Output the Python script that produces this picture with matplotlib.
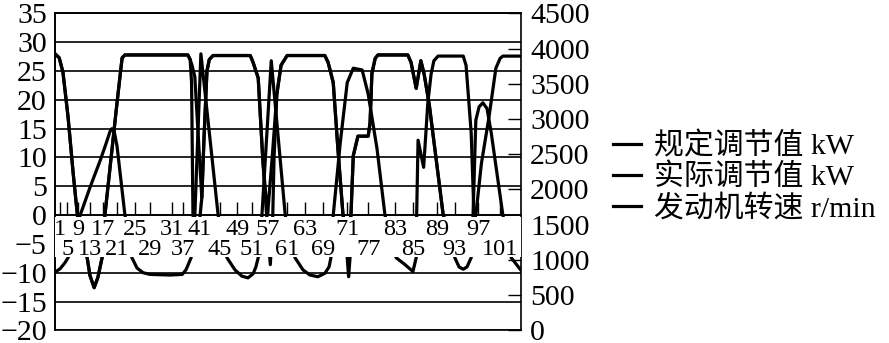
import matplotlib

matplotlib.use("Agg")
import matplotlib.pyplot as plt
from matplotlib.lines import Line2D

plt.rcParams["font.family"] = ["Liberation Serif", "Noto Sans CJK SC"]
plt.rcParams["axes.unicode_minus"] = True

# time axis (0-100 over the plotted span) and category labels on it
top_tick_pos = [1.1, 4.9, 10.3, 17.2, 25.1, 31.1, 39.1, 45.7, 53.6, 62.7, 73.0, 82.0, 90.8]
top_tick_lab = ["1", "9", "17", "25", "31", "41", "49", "57", "63", "71", "83", "89", "97"]
bot_tick_pos = [2.6, 7.5, 13.3, 20.4, 27.5, 35.4, 42.3, 49.8, 57.5, 67.2, 76.8, 85.8, 95.5]
bot_tick_lab = ["5", "13", "21", "29", "37", "45", "51", "61", "69", "77", "85", "93", "101"]

# 规定调节值 kW (left axis)
set_t = [0, 0.9, 1.7, 2.8, 3.9, 4.8, 5.8, 6.9, 7.5, 8.4, 9.2, 10.1, 10.7, 11.8, 13.1,
         14.0, 14.4, 15.0, 28.5, 29.0, 29.3, 29.6, 30.3, 30.9, 31.5, 32.0, 32.6, 33.1,
         33.9, 41.9, 42.5, 43.6, 44.6, 45.4, 46.2, 46.7, 47.0, 47.6, 48.5, 49.8, 57.9,
         58.6, 59.7, 60.7, 61.8, 62.7, 63.0, 63.3, 63.5, 64.0, 65.0, 67.2, 67.6, 68.0,
         68.7, 69.3, 75.7, 76.4, 77.5, 78.5, 79.2, 80.3, 83.3, 84.5, 85.8, 86.7, 87.6,
         88.4, 89.3, 89.7, 90.3, 91.0, 91.8, 92.7, 93.6, 96.1, 97.9, 100]
set_kw = [28.0, 27.3, 24.8, 17.0, 7.2, 0.0, -5.0, -7.4, -10.5, -12.6, -10.8, -7.4, 0.0, 8.2, 18.0,
          24.5, 27.3, 27.8, 27.8, 27.0, 23.0, 0.0, -4.0, -2.0, 3.0, 14.0, 25.0, 27.0,
          27.7, 27.7, 26.5, 23.8, 9.4, 0.0, -8.6, -1.0, 10.0, 21.0, 26.0, 27.7, 27.7,
          26.5, 23.0, 11.5, 0.0, -7.4, -10.7, -7.4, 0.0, 10.3, 13.7, 13.7, 16.0, 24.6,
          27.2, 27.8, 27.8, 26.5, 22.0, 26.8, 24.5, 19.2, 0.0, -4.0, -7.4, -9.0, -9.4,
          -9.0, -7.4, 0.0, 16.5, 18.8, 19.5, 18.5, 14.3, 0.0, -7.4, -9.6]

# 实际调节值 kW (left axis)
act_t = [0, 0.9, 1.7, 2.8, 3.9, 4.8, 5.8, 6.9, 7.5, 8.4, 9.2, 10.1, 10.7, 11.8, 13.1,
         14.0, 14.4, 15.0, 28.5, 29.0, 29.4, 30.0, 31.5, 32.0, 32.6, 33.1, 33.9, 41.9,
         42.5, 43.6, 44.6, 45.6, 46.6, 47.6, 48.5, 49.8, 57.9, 58.6, 59.7, 60.7, 61.8,
         62.6, 63.5, 64.0, 65.0, 67.2, 67.6, 68.0, 68.7, 69.3, 75.7, 76.4, 77.5, 78.5,
         79.2, 80.3, 83.3, 84.8, 89.0, 90.3, 91.5, 93.1, 94.6, 95.5, 96.1, 100]
act_kw = [28.0, 27.3, 24.8, 17.0, 7.2, 0.0, -5.0, -7.4, -10.5, -12.6, -10.8, -7.4, 0.0, 8.2, 18.0,
          24.5, 27.3, 27.8, 27.8, 27.0, 26.0, 24.0, 3.0, 14.0, 25.0, 27.0, 27.7, 27.7,
          26.5, 23.8, 9.4, 0.0, 10.0, 21.0, 26.0, 27.7, 27.7, 26.5, 23.0, 11.5, 0.0,
          -3.0, 0.0, 10.3, 13.7, 13.7, 16.0, 24.6, 27.2, 27.8, 27.8, 26.5, 22.0, 26.8,
          24.5, 19.2, 0.0, -3.0, -3.0, 0.0, 9.0, 16.9, 25.5, 27.2, 27.6, 27.6]

# 发动机转速 r/min (right axis)
rpm_t = [0, 1.1, 2.1, 2.8, 4.1, 5.4, 7.5, 9.7, 10.9, 11.8, 12.2, 12.7, 13.3, 15.0, 15.9,
         16.5, 17.6, 18.9, 20.4, 24.7, 27.3, 28.1, 29.2, 30.0, 31.3, 35.0, 36.1, 36.9,
         38.6, 40.1, 41.4, 42.5, 43.1, 43.6, 44.4, 46.4, 49.4, 50.4, 51.5, 53.2, 54.7,
         56.4, 57.9, 58.8, 59.2, 59.7, 61.2, 62.7, 64.0, 65.9, 67.2, 69.1, 70.8, 71.9,
         73.2, 75.1, 76.8, 77.5, 77.6, 77.9, 79.1, 80.0, 80.7, 81.3, 82.2, 87.6, 88.2,
         89.3, 89.9, 91.2, 100]
rpm = [826, 875, 957, 1031, 1309, 1636, 2029, 2414, 2643, 2823, 2864, 2823, 2618, 1636, 1268,
       1031, 884, 818, 794, 785, 794, 859, 1031, 1636, 3927, 1636, 1268, 1031,
       859, 769, 745, 802, 900, 1031, 1636, 3829, 1636, 1268, 1031, 859, 785,
       761, 810, 900, 1031, 1636, 2659, 3518, 3723, 3698, 3355, 2577, 1636, 1309,
       1031, 933, 835, 1031, 1636, 2700, 2315, 3232, 3641, 3829, 3895, 3895, 3764,
       2806, 1636, 1391, 1391]

labels = ["规定调节值 kW", "实际调节值 kW", "发动机转速 r/min"]

fig = plt.figure(figsize=(8.89, 3.43), dpi=100)
ax1 = fig.add_axes([0.0619, 0.037, 0.5242, 0.9237])
ax2 = ax1.twinx()
ax1.set_zorder(ax2.get_zorder() + 1)
ax1.patch.set_visible(False)

lw = 2.3
style = dict(color="black", linewidth=lw, solid_joinstyle="round", solid_capstyle="round")
ax1.plot(set_t, set_kw, **style)
ax1.plot(act_t, act_kw, **style)
ax2.plot(rpm_t, rpm, **style)

ax1.set_xlim(0, 100)
ax1.set_ylim(-20, 35)
ax2.set_ylim(0, 4500)

# label strip under the zero line hides the curves, as in the original
ax1.axhspan(-7.2, -0.3, facecolor="white", edgecolor="none", zorder=2.2)

ax1.set_yticks(range(-20, 36, 5))
ax1.grid(axis="y", color="black", linewidth=1.2)
ax1.tick_params(axis="y", length=0, pad=6, labelsize=21.5)

ax1.spines["bottom"].set_position(("data", 0))
ax1.spines["right"].set_visible(False)
ax1.spines["left"].set_zorder(2.1)
for s in ax1.spines.values():
    s.set_linewidth(1.2)
for s in ax2.spines.values():
    s.set_linewidth(1.2)
ax1.xaxis.set_zorder(3)
ax1.set_xticks(top_tick_pos, top_tick_lab)
ax1.set_xticks(bot_tick_pos, bot_tick_lab, minor=True)
ax1.tick_params(axis="x", which="both", direction="in", length=9.4, width=1.0, labelsize=17.5)
ax1.tick_params(axis="x", which="major", pad=2.5)
ax1.tick_params(axis="x", which="minor", pad=17.5)

ax2.set_yticks(range(0, 4501, 500))
ax2.tick_params(axis="y", direction="in", length=9.4, width=1.0, pad=6.5, labelsize=21.5)

handles = [Line2D([], [], color="black", linewidth=lw) for _ in labels]
fig.legend(handles, labels, loc="center left", bbox_to_anchor=(0.6895, 0.483),
           frameon=False, fontsize=21.5, handlelength=0.93, handletextpad=0.45,
           labelspacing=0.1, borderpad=0, borderaxespad=0)

fig.savefig("out.png", dpi=100)
